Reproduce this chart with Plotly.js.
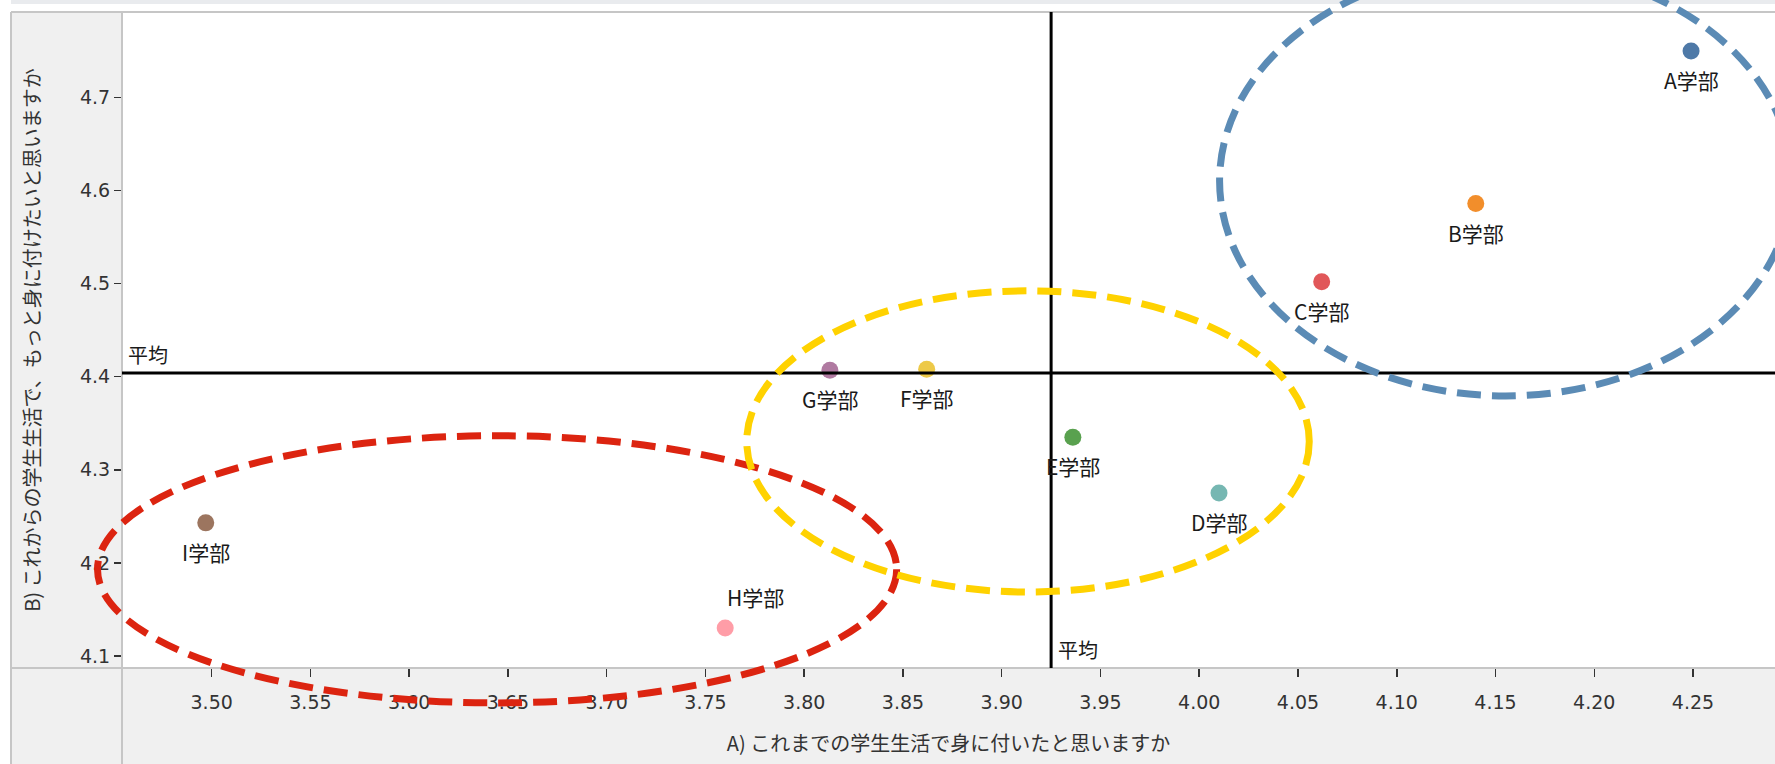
<!DOCTYPE html>
<html><head><meta charset="utf-8">
<script src="https://cdn.plot.ly/plotly-3.0.1.min.js"></script>
<style>html,body{margin:0;padding:0;background:#fff;}#chart{width:1775px;height:764px;}</style>
</head><body><div id="chart"></div>
<script>
// ---- data ----
const faculties = ['A学部','B学部','C学部','D学部','E学部','F学部','G学部','H学部','I学部'];
const scoreA = [4.249, 4.140, 4.062, 4.010, 3.936, 3.862, 3.813, 3.760, 3.497]; // これまで身に付いた
const scoreB = [4.750, 4.586, 4.502, 4.275, 4.335, 4.408, 4.407, 4.130, 4.243]; // もっと身に付けたい
const facultyColors = ['#4e79a7','#f28e2b','#e15759','#76b7b2','#59a14f','#edc948','#b07aa1','#ff9da7','#9c755f'];
const labelAbove = [false,false,false,false,false,false,false,true,false];
const averageA = 3.925;
const averageB = 4.404;
const xTickVals = [3.50,3.55,3.60,3.65,3.70,3.75,3.80,3.85,3.90,3.95,4.00,4.05,4.10,4.15,4.20,4.25];
const yTickVals = [4.1,4.2,4.3,4.4,4.5,4.6,4.7];
// highlight groups (centre x, centre y, radius x, radius y in data units)
const groupCenterX = [3.6445, 3.9133, 4.1551];
const groupCenterY = [4.1931, 4.3305, 4.6103];
const groupRadiusX = [0.2023, 0.1424, 0.1448];
const groupRadiusY = [0.1435, 0.1618, 0.2309];
const groupColors = ['#dc2410', '#ffd200', '#5b8bb5'];

const W = 1775, H = 764;
const M = {l:122, r:0, t:12, b:96};
const xRange = [3.4546, 4.2915];
const yRange = [4.0871, 4.7918];
const fontJP = '"Noto Sans CJK JP", "Noto Sans", sans-serif';
const fontNum = '"DejaVu Sans", "Noto Sans", sans-serif';

const toPX = v => (v - xRange[0]) / (xRange[1] - xRange[0]);
const toPY = v => (v - yRange[0]) / (yRange[1] - yRange[0]);
const pw = W - M.l - M.r, ph = H - M.t - M.b;
const fx = px => (px - M.l) / pw;
const fy = py => (H - M.b - py) / ph;

const trace = {
  type: 'scatter', mode: 'markers',
  x: scoreA, y: scoreB, text: faculties,
  marker: {size: 17, color: facultyColors},
  hoverinfo: 'x+y+text', cliponaxis: false, showlegend: false
};

const frameColor = '#c6c6c6';
const shapes = [
  {type:'rect', xref:'paper', yref:'paper', x0:fx(0), x1:fx(11), y0:fy(H), y1:fy(0), fillcolor:'#ffffff', line:{width:0}, layer:'below'},
  {type:'rect', xref:'paper', yref:'paper', x0:fx(0), x1:fx(W), y0:fy(12), y1:fy(0), fillcolor:'#ffffff', line:{width:0}, layer:'below'},
  {type:'rect', xref:'paper', yref:'paper', x0:fx(11), x1:fx(W), y0:fy(4), y1:fy(0), fillcolor:'#e9ebee', line:{width:0}, layer:'below'},
  {type:'line', xref:'paper', yref:'paper', x0:fx(11), x1:fx(W), y0:fy(12), y1:fy(12), line:{color:frameColor, width:2}},
  {type:'line', xref:'paper', yref:'paper', x0:fx(11), x1:fx(W), y0:fy(668), y1:fy(668), line:{color:frameColor, width:2}},
  {type:'line', xref:'paper', yref:'paper', x0:fx(11), x1:fx(11), y0:fy(12), y1:fy(H), line:{color:frameColor, width:2}},
  {type:'line', xref:'paper', yref:'paper', x0:fx(122), x1:fx(122), y0:fy(12), y1:fy(H), line:{color:frameColor, width:2}},
  {type:'line', xref:'x', yref:'paper', x0:averageA, x1:averageA, y0:0, y1:1, line:{color:'#000', width:3}},
  {type:'line', xref:'paper', yref:'y', x0:0, x1:1, y0:averageB, y1:averageB, line:{color:'#000', width:3}}
];
for (let i = 0; i < groupCenterX.length; i++) {
  shapes.push({
    type:'circle', xref:'paper', yref:'paper', layer:'above',
    x0: toPX(groupCenterX[i]-groupRadiusX[i]), x1: toPX(groupCenterX[i]+groupRadiusX[i]),
    y0: toPY(groupCenterY[i]-groupRadiusY[i]), y1: toPY(groupCenterY[i]+groupRadiusY[i]),
    line:{color: groupColors[i], width: 7, dash: '24px,11px'}, fillcolor:'rgba(0,0,0,0)'
  });
}

const annotations = faculties.map((name, i) => ({
  text: name, xref:'x', yref:'y', x: scoreA[i], y: scoreB[i],
  xanchor:'center', yanchor:'middle', showarrow:false,
  xshift: labelAbove[i] ? 30 : 0, yshift: labelAbove[i] ? 31 : -29,
  font:{family: fontJP, size: 21, color:'#1a1a1a'}
}));
annotations.push(
  {text:'平均', xref:'paper', yref:'y', x:0, y:averageB, xanchor:'left', yanchor:'bottom', xshift:4, yshift:2, showarrow:false, font:{family:fontJP, size:20, color:'#1a1a1a'}},
  {text:'平均', xref:'x', yref:'paper', x:averageA, y:0, xanchor:'left', yanchor:'bottom', xshift:5, yshift:2, showarrow:false, font:{family:fontJP, size:20, color:'#1a1a1a'}}
);

const layout = {
  width: W, height: H,
  margin: M,
  paper_bgcolor: '#f0f0f0', plot_bgcolor: '#ffffff',
  font: {family: fontJP, size: 20, color: '#333'},
  xaxis: {
    range: xRange, tickvals: xTickVals, ticktext: xTickVals.map(v => v.toFixed(2)),
    ticks: 'outside', ticklen: 8, tickwidth: 1.5, tickcolor: '#333', ticklabelstandoff: 9,
    showgrid: false, zeroline: false, showline: false, automargin: false,
    tickfont: {family: fontNum, size: 19, color: '#333'},
    title: {text: 'A) これまでの学生生活で身に付いたと思いますか', font: {family: fontJP, size: 20, color: '#333'}, standoff: 25}
  },
  yaxis: {
    range: yRange, tickvals: yTickVals, ticktext: yTickVals.map(v => v.toFixed(1)),
    ticks: 'outside', ticklen: 7, tickwidth: 1.5, tickcolor: '#333',
    showgrid: false, zeroline: false, showline: false, automargin: false,
    tickfont: {family: fontNum, size: 19, color: '#333'},
    title: {text: 'B) これからの学生生活で、もっと身に付けたいと思いますか', font: {family: fontJP, size: 20, color: '#333'}, standoff: 33}
  },
  shapes: shapes,
  annotations: annotations
};

Plotly.newPlot('chart', [trace], layout, {displayModeBar: false, staticPlot: true});
</script></body></html>
